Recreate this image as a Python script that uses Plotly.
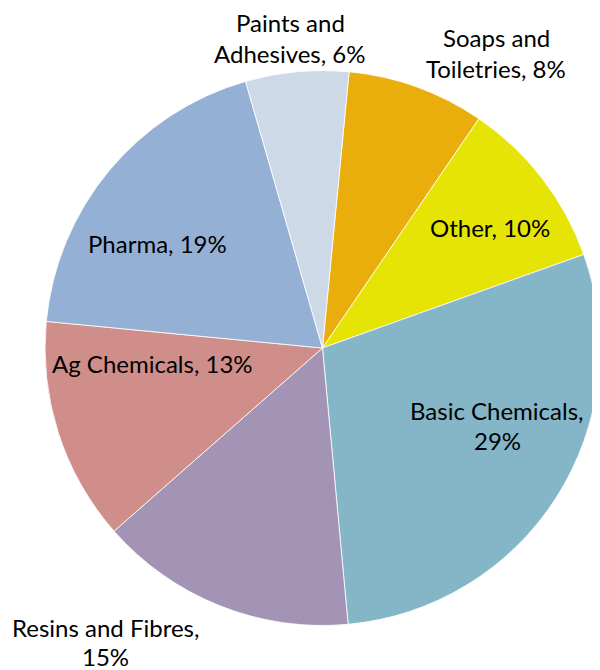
import plotly.graph_objects as go

# ---- data ----
categories = ["Soaps and Toiletries", "Other", "Basic Chemicals", "Resins and Fibres",
              "Ag Chemicals", "Pharma", "Paints and Adhesives"]
values = [8, 10, 29, 15, 13, 19, 6]


def label_lines(cat, val):
    if cat == "Soaps and Toiletries":
        return ["Soaps and", f"Toiletries, {val}%"]
    if cat == "Paints and Adhesives":
        return ["Paints and", f"Adhesives, {val}%"]
    if cat == "Basic Chemicals":
        return ["Basic Chemicals,", f"{val}%"]
    if cat == "Resins and Fibres":
        return ["Resins and Fibres,", f"{val}%"]
    return [f"{cat}, {val}%"]


# ---- styling / layout ----
colors = ["#E9AE0B", "#E6E404", "#84B6C8", "#A394B6", "#D08E8A", "#94B1D5", "#CDD9E6"]
W, H = 592, 662          # page adds 8px body margin
OFF = 8
# label anchor in page pixels (x centre, y of first line, line gap)
label_anchor = {
    "Soaps and Toiletries": (496, 38, 31),
    "Other": (490, 227, 31),
    "Basic Chemicals": (497, 410, 30),
    "Resins and Fibres": (105, 627, 29),
    "Ag Chemicals": (152, 363, 31),
    "Pharma": (157, 243, 31),
    "Paints and Adhesives": (290, 23, 31),
}

fig = go.Figure(go.Pie(
    labels=categories,
    values=values,
    sort=False,
    direction="clockwise",
    rotation=5.5,
    marker=dict(colors=colors, line=dict(color="rgba(255,255,255,0.8)", width=1)),
    textinfo="none",
    hoverinfo="label+percent",
    domain=dict(x=[37 / W, 1.0], y=[0.0672, 0.9056]),
    showlegend=False,
))

annotations = []
for cat, val in zip(categories, values):
    px, py, gap = label_anchor[cat]
    for i, line in enumerate(label_lines(cat, val)):
        annotations.append(dict(
            text=line, x=(px - OFF) / W, y=1 - (py - OFF + i * gap) / H,
            xref="paper", yref="paper", xanchor="center", yanchor="middle",
            showarrow=False, font=dict(family="Lato", size=24, color="#000000"),
        ))

fig.update_layout(
    width=W, height=H,
    margin=dict(l=0, r=0, t=0, b=0),
    paper_bgcolor="white", plot_bgcolor="white",
    annotations=annotations,
)

fig.write_html("out.html")
